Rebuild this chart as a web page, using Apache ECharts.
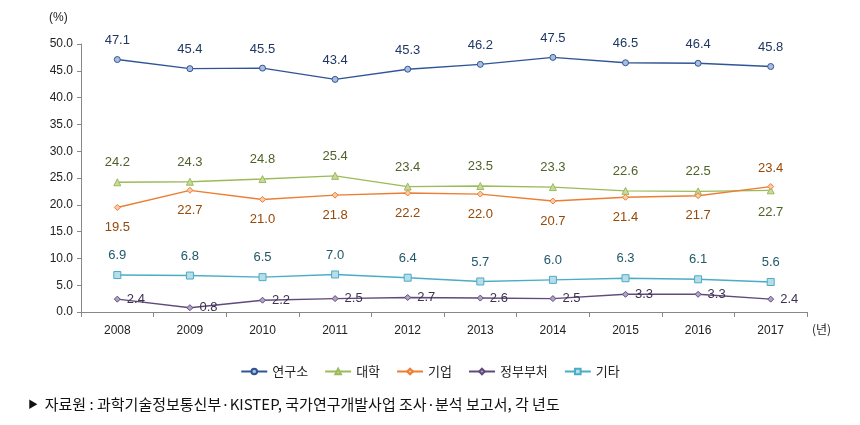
<!DOCTYPE html>
<html><head><meta charset="utf-8">
<script src="https://cdn.jsdelivr.net/npm/echarts@6/dist/echarts.min.js"></script>
<style>html,body{margin:0;padding:0;background:#fff}#c{width:860px;height:425px}</style>
</head><body><div id="c"></div>
<script>
const years = ['2008','2009','2010','2011','2012','2013','2014','2015','2016','2017'];
const yTicks = [0,5,10,15,20,25,30,35,40,45,50];
const research = [47.1,45.4,45.5,43.4,45.3,46.2,47.5,46.5,46.4,45.8];
const univ = [24.2,24.3,24.8,25.4,23.4,23.5,23.3,22.6,22.5,22.7];
const corp = [19.5,22.7,21.0,21.8,22.2,22.0,20.7,21.4,21.7,23.4];
const gov = [2.4,0.8,2.2,2.5,2.7,2.6,2.5,3.3,3.3,2.4];
const etc = [6.9,6.8,6.5,7.0,6.4,5.7,6.0,6.3,6.1,5.6];

const NUMF = '"Liberation Sans", "Noto Sans CJK KR", sans-serif';
const KRF = '"Noto Sans CJK KR", sans-serif';

function mk(name, vals, color, fill, symbol, labelColor, pos, dist, overrides) {
  return {
    name, type: 'line', symbol, symbolSize: symbol === 'rect' ? 7 : (symbol === 'triangle' ? 7 : 6),
    lineStyle: { color, width: 1.4 },
    itemStyle: { color: fill, borderColor: color, borderWidth: 1 },
    label: { show: true, position: pos, distance: dist, color: labelColor, fontSize: 13, fontFamily: NUMF,
      formatter: p => p.value.toFixed(1) },
    data: vals.map((v, i) => (overrides && overrides[i]) ? { value: v, label: overrides[i] } : v),
    emphasis: { disabled: true }, animation: false
  };
}

const chart = echarts.init(document.getElementById('c'));
chart.setOption({
  animation: false,
  grid: { left: 81, right: 53, top: 44, bottom: 113 },
  legend: {
    bottom: 42, left: 'center', itemWidth: 26, itemHeight: 7, itemGap: 16,
    textStyle: { fontFamily: KRF, fontSize: 13, color: '#222' },
    data: ['연구소','대학','기업','정부부처','기타']
  },
  xAxis: {
    type: 'category', data: years, boundaryGap: true,
    axisLine: { lineStyle: { color: '#888' } },
    axisTick: { show: true, length: 5, lineStyle: { color: '#888' } },
    axisLabel: { color: '#222', fontSize: 12, fontFamily: NUMF, margin: 13 }
  },
  yAxis: {
    type: 'value', min: yTicks[0], max: yTicks[yTicks.length-1], interval: 5,
    axisLine: { show: true, lineStyle: { color: '#888' } },
    axisTick: { show: true, length: 4, lineStyle: { color: '#888' } },
    splitLine: { show: false },
    axisLabel: { color: '#222', fontSize: 12, fontFamily: NUMF, margin: 8, formatter: v => v.toFixed(1) }
  },
  graphic: [
    { type: 'text', left: 49, top: 12, style: { text: '(%)', fontSize: 12, fontFamily: NUMF, fill: '#222' } },
    { type: 'text', left: 812, top: 323, style: { text: '(년)', fontSize: 12, fontFamily: KRF, fill: '#222' } },
    { type: 'text', left: 28, top: 397, style: {
        text: '{t|▶}  자료원 : 과학기술정보통신부·KISTEP, 국가연구개발사업 조사·분석 보고서, 각 년도',
        fontSize: 15, fontFamily: KRF, fill: '#111',
        rich: { t: { fontSize: 10, fill: '#111', fontFamily: KRF } } } }
  ],
  series: [
    mk('연구소', research, '#2F5597', '#A9BEDD', 'circle', '#1F3864', 'top', 9),
    mk('대학', univ, '#9BBB59', '#C6DA9E', 'triangle', '#4F6228', 'top', 9, {9: { position: 'bottom', distance: 12 }}),
    mk('기업', corp, '#ED7D31', '#F8CBAD', 'diamond', '#984807', 'bottom', 10, {9: { position: 'top', distance: 8 }}),
    mk('정부부처', gov, '#604A7B', '#B3A2C7', 'diamond', '#3F3151', 'right', 6),
    mk('기타', etc, '#4BACC6', '#B7DEE8', 'rect', '#215968', 'top', 9)
  ]
});
</script></body></html>
